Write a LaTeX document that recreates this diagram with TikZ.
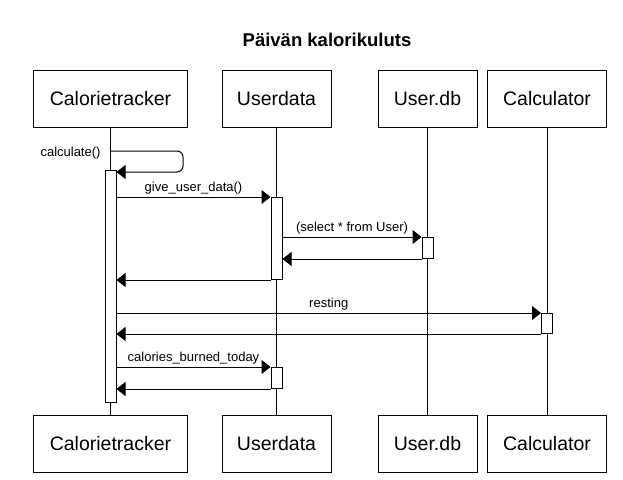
\documentclass[tikz,border=0pt]{standalone}
\usepackage{fontspec}
\setmainfont{Liberation Sans}
\usetikzlibrary{arrows.meta}

\begin{document}
\begin{tikzpicture}[x=1pt, y=-1pt, line width=1pt,
        actor/.style={draw, minimum height=57pt, inner sep=0pt, font=\fontsize{19.5}{22}\selectfont},
        act/.style={draw, fill=white, minimum width=11pt, inner sep=0pt, anchor=north},
        msg/.style={-{Triangle[length=9pt, width=14pt]}},
        lbl/.style={inner sep=0pt, font=\fontsize{13}{15}\selectfont}]
        \useasboundingbox (0,0) rectangle (623,479);

        \node[font=\fontsize{18.5}{22}\selectfont\bfseries] (title) at (327,40) {Päivän kalorikuluts};

        % participants
        \node[actor, minimum width=154pt] (ctTop) at (110.5,98.5) {Calorietracker};
        \node[actor, minimum width=109pt] (udTop) at (276.5,98.5) {Userdata};
        \node[actor, minimum width=99pt] (dbTop) at (427.5,98.5) {User.db};
        \node[actor, minimum width=119pt] (calcTop) at (547,98.5) {Calculator};
        \node[actor, minimum width=154pt] (ctBot) at (110.5,443.5) {Calorietracker};
        \node[actor, minimum width=109pt] (udBot) at (276.5,443.5) {Userdata};
        \node[actor, minimum width=99pt] (dbBot) at (427.5,443.5) {User.db};
        \node[actor, minimum width=119pt] (calcBot) at (547,443.5) {Calculator};

        \draw (ctTop) -- (ctBot);
        \draw (udTop) -- (udBot);
        \draw (dbTop) -- (dbBot);
        \draw (calcTop) -- (calcBot);

        % activations
        \node[act, minimum height=232pt] (ct1) at (110.5,170) {};
        \node[act, minimum height=82pt] (ud1) at (276.5,197) {};
        \node[act, minimum height=21pt] (db1) at (427.5,237) {};
        \node[act, minimum height=20pt] (calc1) at (547,313) {};
        \node[act, minimum height=21pt] (ud2) at (276.5,367) {};

        % self call
        \coordinate (selfOut) at (110.5,151);
        \coordinate (selfBack) at (183,172);
        \draw[msg, rounded corners=6pt] (selfOut) -- (selfOut -| selfBack) -- (selfBack) -- (selfBack -| ct1.east);
        \node[lbl, anchor=east] (selfLbl) at (101,153) {calculate()};

        % messages
        \draw[msg] (ct1.east |- ud1.north) -- node[lbl, above=2pt] {give\_user\_data()} (ud1.north west);
        \draw[msg] (ud1.east |- db1.north) -- node[lbl, above=2pt] {(select * from User)} (db1.north west);
        \draw[msg] (db1.south west) -- (db1.south west -| ud1.east);
        \draw[msg] (ud1.south west) -- (ud1.south west -| ct1.east);
        \draw[msg] (ct1.east |- calc1.north) -- node[lbl, above=2pt] {resting} (calc1.north west);
        \draw[msg] (calc1.south west) -- (calc1.south west -| ct1.east);
        \draw[msg] (ct1.east |- ud2.north) -- node[lbl, above=2pt] {calories\_burned\_today} (ud2.north west);
        \draw[msg] (ud2.south west) -- (ud2.south west -| ct1.east);
    \end{tikzpicture}
\end{document}
